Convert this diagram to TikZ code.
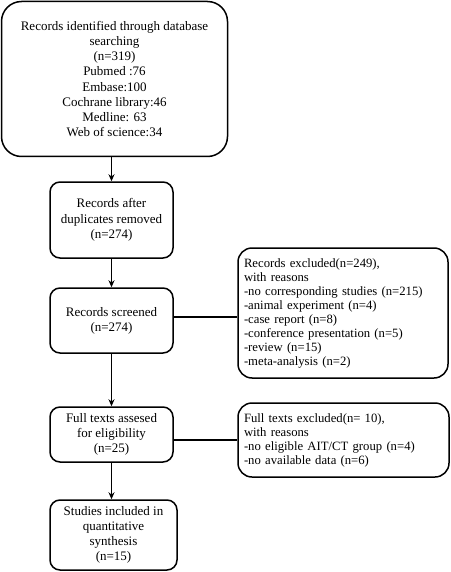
\documentclass[tikz,border=0pt]{standalone}
\usepackage{fontspec}
\setmainfont{Liberation Serif}
\usetikzlibrary{arrows.meta}
\begin{document}
\begin{tikzpicture}[x=1pt,y=-1pt,
  box/.style={draw,line width=1.5pt,rounded corners=10pt,align=center,inner sep=0pt,
    font=\fontsize{13}{15.2}\selectfont},
  rbox/.style={draw,line width=1.5pt,rounded corners=14pt,align=left,inner sep=0pt,
    font=\fontsize{12.7}{14}\selectfont},
  arr/.style={line width=1.5pt,-{Stealth[length=7pt,width=6pt]}},
  conn/.style={line width=1.5pt}]
\useasboundingbox (0,0) rectangle (450,572);
\node[box,rounded corners=20pt,minimum width=226pt,minimum height=155pt] (b1) at (114.5,79)
  {Records identified through database\\searching\\(n=319)\\Pubmed :76\\Embase:100\\Cochrane library:46\\Medline: 63\\Web of science:34};
\node[box,minimum width=123pt,minimum height=76pt] (b2) at (111.5,220)
  {Records after\\duplicates removed\\(n=274)};
\node[box,minimum width=123pt,minimum height=65pt] (b3) at (111.5,320.5)
  {Records screened\\(n=274)};
\node[box,minimum width=123pt,minimum height=55pt] (b4) at (111.5,434.5)
  {Full texts assesed\\for eligibility\\(n=25)};
\node[box,minimum width=127pt,minimum height=70pt] (b5) at (113.5,535)
  {Studies included in\\quantitative\\synthesis\\(n=15)};
\node[rbox,minimum width=210pt,minimum height=130pt,text width=198pt] (r1) at (343,313)
  {Records excluded(n=249),\\with reasons\\-no corresponding studies (n=215)\\-animal experiment (n=4)\\-case report (n=8)\\-conference presentation (n=5)\\-review (n=15)\\-meta-analysis (n=2)};
\node[rbox,minimum width=211pt,minimum height=74pt,text width=199pt] (r2) at (343.5,440)
  {Full texts excluded(n= 10),\\with reasons\\-no eligible AIT/CT group (n=4)\\-no available data (n=6)};
\draw[arr] (b2.north |- b1.south) -- (b2.north);
\draw[arr] (b2.south) -- (b3.north);
\draw[arr] (b3.south) -- (b4.north);
\draw[arr] (b4.south) -- (b4.south |- b5.north);
\draw[conn] ([yshift=3.5pt]b3.east) -- ([yshift=3.5pt]b3.east -| r1.west);
\draw[conn] ([yshift=-5.5pt]b4.east) -- ([yshift=-5.5pt]b4.east -| r2.west);
\end{tikzpicture}
\end{document}
